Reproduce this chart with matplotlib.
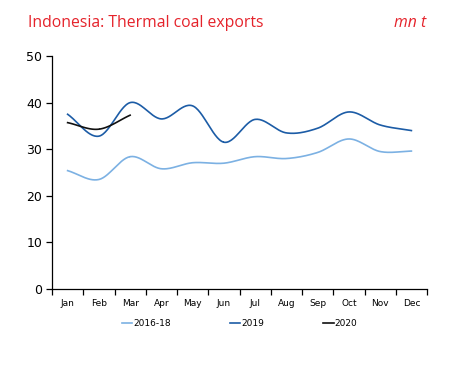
import numpy as np
import matplotlib
matplotlib.use("Agg")
import matplotlib.pyplot as plt

months = ["Jan", "Feb", "Mar", "Apr", "May", "Jun", "Jul", "Aug", "Sep", "Oct", "Nov", "Dec"]
avg_2016_18 = [25.4, 23.5, 28.4, 25.8, 27.1, 27.0, 28.4, 28.0, 29.3, 32.2, 29.5, 29.6]
exports_2019 = [37.5, 32.8, 40.0, 36.5, 39.3, 31.5, 36.4, 33.5, 34.5, 38.0, 35.2, 34.0]
exports_2020 = [35.7, 34.3, 37.3]


def smooth(x, y, n=30):
    # Catmull-Rom curve through the points, like a spreadsheet "smoothed line"
    x = np.asarray(x, float)
    y = np.asarray(y, float)
    px = np.concatenate([[2 * x[0] - x[1]], x, [2 * x[-1] - x[-2]]])
    py = np.concatenate([[2 * y[0] - y[1]], y, [2 * y[-1] - y[-2]]])
    xs, ys = [], []
    t = np.linspace(0, 1, n)
    for i in range(1, len(px) - 2):
        for p, out in ((px, xs), (py, ys)):
            p0, p1, p2, p3 = p[i - 1], p[i], p[i + 1], p[i + 2]
            out.append(0.5 * (2 * p1 + (-p0 + p2) * t
                              + (2 * p0 - 5 * p1 + 4 * p2 - p3) * t ** 2
                              + (-p0 + 3 * p1 - 3 * p2 + p3) * t ** 3))
    return np.concatenate(xs), np.concatenate(ys)


fig = plt.figure(figsize=(4.51, 3.69), dpi=100)
ax = fig.add_axes([0.1153, 0.2168, 0.8315, 0.6314])

series = [
    (avg_2016_18, "2016-18", "#7cb1e3"),
    (exports_2019, "2019", "#1c5ca6"),
    (exports_2020, "2020", "#111111"),
]
for vals, label, color in series:
    sx, sy = smooth(np.arange(len(vals)), vals)
    ax.plot(sx, sy, color=color, lw=1.2, label=label)

ax.set_xlim(-0.5, 11.5)
ax.set_ylim(0, 50)
ax.set_yticks(range(0, 51, 10))
ax.set_xticks(np.arange(-0.5, 12, 1))
ax.set_xticklabels([])
ax.set_xticks(range(12), minor=True)
ax.set_xticklabels(months, minor=True, fontsize=6.5)
ax.tick_params(axis="x", which="minor", length=0, pad=7)
ax.tick_params(axis="x", which="major", length=4, direction="out", width=0.9)
ax.tick_params(axis="y", length=4, direction="out", width=0.9, labelsize=9, pad=3)
for s in ("top", "right"):
    ax.spines[s].set_visible(False)
for s in ("left", "bottom"):
    ax.spines[s].set_linewidth(0.9)

ax.legend(loc="upper center", bbox_to_anchor=(0.5, -0.095), ncol=3, frameon=False,
          fontsize=6.5, handlelength=1.2, handletextpad=0.1, columnspacing=6.5)

fig.text(0.063, 0.938, "Indonesia: Thermal coal exports", color="#e5232b",
         fontsize=11.3, family="Open Sans", va="center")
fig.text(0.945, 0.938, "mn t", color="#e5232b", fontsize=11.3, family="Open Sans",
         style="italic", va="center", ha="right")

fig.savefig("out.png", dpi=100)
